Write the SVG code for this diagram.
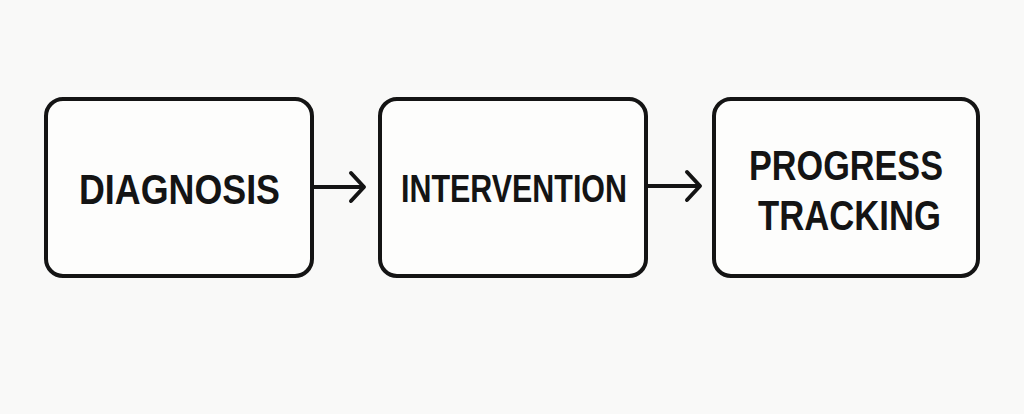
<svg xmlns="http://www.w3.org/2000/svg" width="1024" height="414" viewBox="0 0 1024 414">
<style>
.box{fill:#fdfdfc;stroke:#141414;stroke-width:4}
.lbl{font-family:"Liberation Sans",Arial,sans-serif;font-weight:bold;fill:#141414}
.conn{fill:none;stroke:#141414;stroke-width:4;stroke-linecap:round;stroke-linejoin:round}
</style>
<rect width="1024" height="414" fill="#f9f9f8"/>
<g id="node-diagnosis">
<rect class="box" x="46" y="99" width="266" height="177" rx="17"/>
<text class="lbl" x="79" y="204" font-size="43" textLength="201" lengthAdjust="spacingAndGlyphs">DIAGNOSIS</text>
</g>
<g id="node-intervention">
<rect class="box" x="380" y="99" width="266" height="177" rx="17"/>
<text class="lbl" x="401" y="202" font-size="39" textLength="226" lengthAdjust="spacingAndGlyphs">INTERVENTION</text>
</g>
<g id="node-progress">
<rect class="box" x="714" y="99" width="264" height="177" rx="17"/>
<text class="lbl" x="749" y="180" font-size="42" textLength="194" lengthAdjust="spacingAndGlyphs">PROGRESS</text>
<text class="lbl" x="758" y="230" font-size="42" textLength="183" lengthAdjust="spacingAndGlyphs">TRACKING</text>
</g>
<g id="connectors">
<path class="conn" d="M314 187 H363 M351 173 L364 187 L351 201"/>
<path class="conn" d="M648 186 H699 M687 172 L700 186 L687 200"/>
</g>
</svg>
